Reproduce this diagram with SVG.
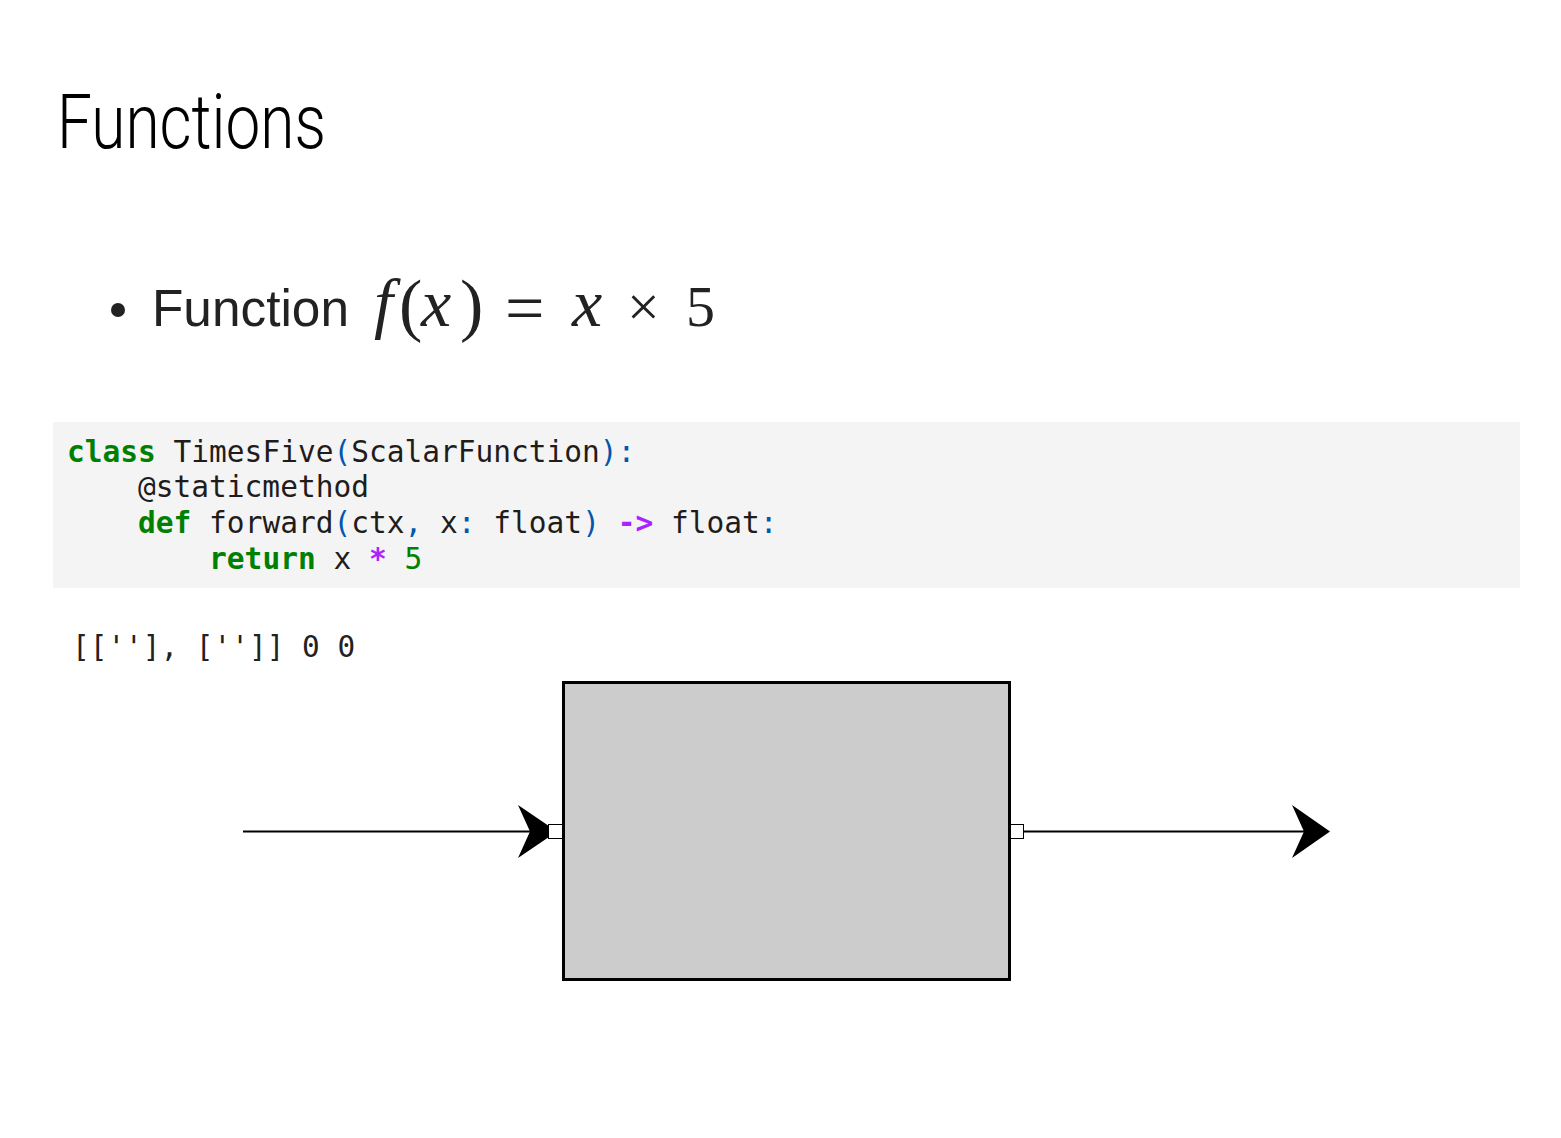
<svg xmlns="http://www.w3.org/2000/svg" width="1561" height="1138" viewBox="0 0 1561 1138">
  <style>
    .title { font-family: Roboto, "Liberation Sans", sans-serif; font-weight: 300; font-size: 76px; fill: #000; }
    .bullet { font-family: "Liberation Sans", Arial, sans-serif; font-size: 52px; fill: #222; }
    .math { font-family: "Liberation Serif", "Times New Roman", serif; font-size: 58px; fill: #222; }
    .mi { font-style: italic; font-size: 68px; }
    .par { font-size: 70px; }
    .code { font-family: "DejaVu Sans Mono", monospace; font-size: 29.5px; fill: #1f1c1b; white-space: pre; }
    .kw { fill: #008000; font-weight: bold; }
    .pn { fill: #0057ae; }
    .op { fill: #aa22ff; font-weight: bold; }
    .num { fill: #008000; }
    .out { font-family: "DejaVu Sans Mono", monospace; font-size: 29.4px; fill: #222; white-space: pre; }
    .node { fill: #cccccc; stroke: #000; stroke-width: 3; }
    .port { fill: #fff; stroke: #000; stroke-width: 1; }
    .wire { stroke: #000; stroke-width: 2; fill: none; }
    .head { fill: #000; }
  </style>

  <rect width="1561" height="1138" fill="#fff"/>

  <!-- heading -->
  <text class="title" x="57" y="148" textLength="269" lengthAdjust="spacingAndGlyphs">Functions</text>

  <!-- bullet line with formula -->
  <circle cx="118" cy="310" r="7" fill="#222"/>
  <text class="bullet" x="152" y="326" textLength="197" lengthAdjust="spacingAndGlyphs">Function</text>
  <g class="math">
    <text class="mi" x="374" y="326">f</text>
    <text class="par" x="399" y="328">(</text>
    <text class="mi" x="421" y="326">x</text>
    <text class="par" x="460" y="328">)</text>
    <text x="505" y="332" font-size="70">=</text>
    <text class="mi" x="572" y="326">x</text>
    <text x="627" y="326">×</text>
    <text x="686" y="326">5</text>
  </g>

  <!-- code listing -->
  <rect x="53" y="422" width="1467" height="166" fill="#f4f4f4"/>
  <text class="code" x="67" y="462"><tspan class="kw">class</tspan> TimesFive<tspan class="pn">(</tspan>ScalarFunction<tspan class="pn">):</tspan></text>
  <text class="code" x="67" y="497">    @staticmethod</text>
  <text class="code" x="67" y="533">    <tspan class="kw">def</tspan> forward<tspan class="pn">(</tspan>ctx<tspan class="pn">,</tspan> x<tspan class="pn">:</tspan> float<tspan class="pn">)</tspan> <tspan class="op">-&gt;</tspan> float<tspan class="pn">:</tspan></text>
  <text class="code" x="67" y="569">        <tspan class="kw">return</tspan> x <tspan class="op">*</tspan> <tspan class="num">5</tspan></text>

  <!-- printed output -->
  <text class="out" x="72" y="657">[[''], ['']] 0 0</text>

  <!-- connectors -->
  <g id="connectors">
    <line class="wire" x1="243" y1="831.5" x2="540" y2="831.5"/>
    <path class="head" d="M557,831.5 L518,805 L530,831.5 L518,858 Z"/>
    <line class="wire" x1="1017" y1="831.5" x2="1310" y2="831.5"/>
    <path class="head" d="M1330,831.5 L1292,805 L1304,831.5 L1292,858 Z"/>
  </g>

  <!-- function block -->
  <g id="node-timesfive">
    <rect class="node" x="563.5" y="682.5" width="446" height="297"/>
    <rect class="port" x="548.5" y="824.5" width="14" height="14"/>
    <rect class="port" x="1010.5" y="824.5" width="13" height="14"/>
  </g>
</svg>
